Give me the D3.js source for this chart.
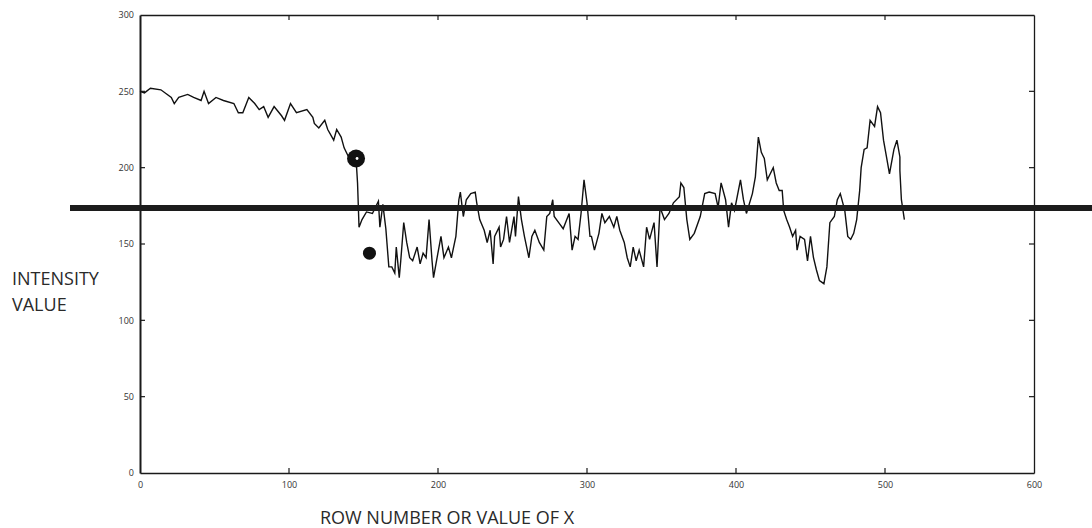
<!DOCTYPE html>
<html>
<head>
<meta charset="utf-8">
<script src="https://cdn.jsdelivr.net/npm/d3@7"></script>
<style>
  html, body { margin: 0; padding: 0; background: #fff; }
  svg { display: block; }
  text { font-family: "Open Sans", "Liberation Sans", sans-serif; }
</style>
</head>
<body>
<svg id="chart" width="1092" height="528"></svg>
<script>
// ---- data ----
const rowX = [0,3,7,14,21,23,26,32,36,41,43,46,51,56,63,66,69,73,77,80,83,86,90,95,97,101,105,112,116,117,120,124,126,130,132,135,137,140,145,
  146,147,149,152,156,160,161,163,165,167,169,171,172,174,175,177,179,181,183,186,188,190,192,194,196,197,199,202,204,207,209,212,214,215,217,219,222,225,226,228,231,233,235,237,238,241,242,244,246,248,251,252,254,256,258,261,263,265,268,271,273,275,277,278,281,284,288,290,292,294,296,298,300,302,
  303,305,308,310,312,315,318,320,322,325,327,329,331,333,335,338,340,342,345,347,349,352,355,358,362,363,365,367,369,372,376,379,382,386,388,390,393,395,397,399,403,405,407,411,413,415,417,419,421,423,425,427,429,431,432,434,436,438,440,441,443,446,448,450,452,454,456,459,461,
  463,466,468,470,473,475,477,479,481,483,484,486,488,490,493,495,497,499,501,503,506,508,510,510,511,513];
const intensity = [250,249,252,251,246,242,246,248,246,244,250,242,246,244,242,236,236,246,242,238,240,233,240,234,231,242,236,238,233,229,226,231,225,218,225,220,213,207,206,
  190,161,166,171,170,178,161,176,160,135,135,131,148,128,139,164,151,141,139,148,137,144,141,166,139,128,139,155,141,148,141,155,179,184,168,179,183,184,177,166,159,151,159,137,155,161,148,153,168,151,168,155,181,166,155,141,155,159,151,146,168,170,179,168,164,160,170,146,155,153,170,192,177,155,
  155,146,157,170,164,168,161,168,159,151,141,135,148,139,146,135,161,153,164,135,174,166,170,177,181,190,187,166,153,157,168,183,184,183,174,190,179,161,177,172,192,179,170,183,194,220,210,206,192,196,200,190,185,185,172,166,161,155,159,146,155,153,139,155,141,133,126,124,135,
  164,168,179,183,172,155,153,157,166,185,200,212,213,231,227,240,236,218,207,196,212,218,207,198,179,166];
const markerX = [145, 154];
const markerY = [206, 144];
const thresholdValue = [173.5];
const xTicks = [0, 100, 200, 300, 400, 500, 600];
const yTicks = [0, 50, 100, 150, 200, 250, 300];
const xTickLabels = ["0", "100", "200", "300", "400", "500", "600"];
const yTickLabels = ["0", "50", "100", "150", "200", "250", "300"];
const yAxisTitle = ["INTENSITY", "VALUE"];
const xAxisTitle = "ROW NUMBER OR VALUE OF X";

// ---- layout ----
const W = 1092, H = 528;
const pL = 140, pR = 1034, pT = 15, pB = 473;
const svg = d3.select("#chart");

const x = d3.scaleLinear().domain([0, 600]).range([pL, pR]);
const y = d3.scaleLinear().domain([0, 300]).range([pB, pT]);

// frame + axes
const axisColor = "#1a1a1a";
const gB = svg.append("g").attr("transform", `translate(0,${pB})`)
  .call(d3.axisBottom(x).tickValues(xTicks).tickSize(0).tickPadding(9).tickFormat((d,i) => xTickLabels[i]));
const gL = svg.append("g").attr("transform", `translate(${pL},0)`)
  .call(d3.axisLeft(y).tickValues(yTicks).tickSize(0).tickPadding(6).tickFormat((d,i) => yTickLabels[i]));
const gT = svg.append("g").attr("transform", `translate(0,${pT})`)
  .call(d3.axisTop(x).tickValues(xTicks).tickSize(0).tickFormat(""));
const gR = svg.append("g").attr("transform", `translate(${pR},0)`)
  .call(d3.axisRight(y).tickValues(yTicks).tickSize(0).tickFormat(""));
[gB, gL, gT, gR].forEach(g => {
  g.select(".domain").attr("stroke", axisColor).attr("stroke-width", 1.3);
  g.selectAll("text").attr("fill", "#333").style("font-size", "9px");
});
gL.select(".domain").attr("stroke-width", 2);

// inward ticks
const tickLen = 5;
const inX = xTicks.filter(d => d > 0 && d < 600);
const inY = yTicks.filter(d => d > 0 && d < 300);
svg.append("g").selectAll("line").data(inX).join("line")
  .attr("x1", d => x(d)).attr("x2", d => x(d)).attr("y1", pB).attr("y2", pB - tickLen)
  .attr("stroke", axisColor).attr("stroke-width", 1.2);
svg.append("g").selectAll("line").data(inX).join("line")
  .attr("x1", d => x(d)).attr("x2", d => x(d)).attr("y1", pT).attr("y2", pT + tickLen)
  .attr("stroke", axisColor).attr("stroke-width", 1.2);
svg.append("g").selectAll("line").data(inY).join("line")
  .attr("x1", pL).attr("x2", pL + tickLen).attr("y1", d => y(d)).attr("y2", d => y(d))
  .attr("stroke", axisColor).attr("stroke-width", 1.2);
svg.append("g").selectAll("line").data(inY).join("line")
  .attr("x1", pR).attr("x2", pR - tickLen).attr("y1", d => y(d)).attr("y2", d => y(d))
  .attr("stroke", axisColor).attr("stroke-width", 1.2);

// intensity profile
const n = Math.min(rowX.length, intensity.length);
const pts = d3.range(n).map(i => [rowX[i], intensity[i]]);
svg.append("path")
  .datum(pts)
  .attr("fill", "none")
  .attr("stroke", "#111")
  .attr("stroke-width", 1.4)
  .attr("d", d3.line().x(d => x(d[0])).y(d => y(d[1])));

// thick threshold line
svg.append("g").selectAll("line").data(thresholdValue).join("line")
  .attr("x1", 70).attr("x2", W)
  .attr("y1", d => y(d)).attr("y2", d => y(d))
  .attr("stroke", "#1c1c1c").attr("stroke-width", 6);

// markers
const mk = markerX.map((d, i) => ({ x: d, y: markerY[i], r: i === 0 ? 9 : 6.5 }));
svg.append("g").selectAll("circle").data(mk).join("circle")
  .attr("cx", d => x(d.x)).attr("cy", d => y(d.y)).attr("r", d => d.r)
  .attr("fill", "#111");
svg.append("circle").datum(mk[0])
  .attr("cx", d => x(d.x) + 1).attr("cy", d => y(d.y)).attr("r", 1.4).attr("fill", "#fff");

// axis titles
svg.append("g").selectAll("text").data(yAxisTitle).join("text")
  .attr("x", 12).attr("y", (d, i) => 285 + i * 26)
  .attr("fill", "#2a2a2a").style("font-size", "18px")
  .text(d => d);
svg.append("text")
  .attr("x", 447).attr("y", 524)
  .attr("text-anchor", "middle")
  .attr("fill", "#2a2a2a").style("font-size", "18px")
  .text(xAxisTitle);
</script>
</body>
</html>
